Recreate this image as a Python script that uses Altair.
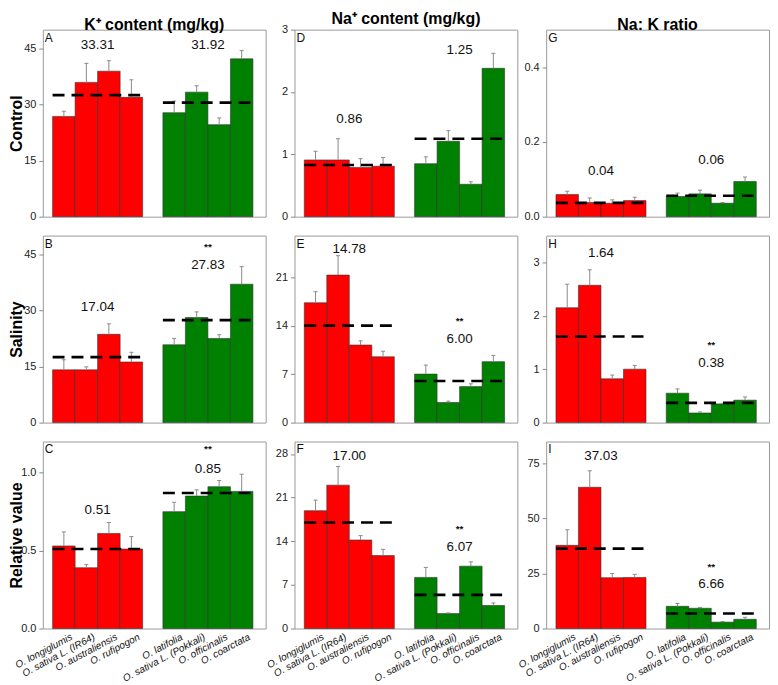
import json
import altair as alt
import pandas as pd

# ---------------- data ----------------
SPECIES = ["O. longiglumis", "O. sativa L. (IR64)", "O. australiensis", "O. rufipogon",
           "O. latifolia", "O. sativa L. (Pokkali)", "O. officinalis", "O. coarctata"]
GROUP = ["sensitive"] * 4 + ["tolerant"] * 4
BAR_START = [0, 1, 2, 3, 4.9, 5.9, 6.9, 7.9]
GROUP_START = [0, 4.9]
GROUP_END = [4, 8.9]

ROWS = ["Control", "Salinity", "Relative value"]
COLS = ["K\u207a content (mg/kg)", "Na\u207a content (mg/kg)", "Na: K ratio"]

# Control
k_control = [26.8, 35.9, 38.9, 31.9, 27.8, 33.3, 24.6, 42.2]
k_control_se = [1.4, 5.1, 2.8, 4.7, 3.1, 1.7, 1.8, 2.2]
k_control_line = [32.5, 30.5]
k_control_lbl = ["33.31", "31.92"]
k_control_lbl_y = [45.8, 45.8]

na_control = [0.91, 0.91, 0.79, 0.81, 0.85, 1.21, 0.52, 2.38]
na_control_se = [0.14, 0.34, 0.14, 0.14, 0.11, 0.17, 0.04, 0.24]
na_control_line = [0.83, 1.25]
na_control_lbl = ["0.86", "1.25"]
na_control_lbl_y = [1.57, 2.68]

r_control = [0.059, 0.038, 0.036, 0.043, 0.054, 0.061, 0.036, 0.094]
r_control_se = [0.009, 0.012, 0.009, 0.009, 0.009, 0.010, 0.002, 0.012]
r_control_line = [0.037, 0.056]
r_control_lbl = ["0.04", "0.06"]
r_control_lbl_y = [0.123, 0.152]

# Salinity
k_sal = [14.1, 14.1, 23.6, 16.2, 20.8, 28.1, 22.5, 37.0]
k_sal_se = [2.7, 0.8, 2.8, 2.6, 1.7, 1.5, 1.0, 4.7]
k_sal_line = [17.5, 27.4]
k_sal_lbl = ["17.04", "27.83"]
k_sal_lbl_y = [30.9, 42.1]
k_sal_star_y = 46.9

na_sal = [17.3, 21.3, 11.2, 9.5, 7.0, 2.9, 5.2, 8.8]
na_sal_se = [1.6, 2.8, 0.6, 0.8, 1.3, 0.2, 0.4, 0.9]
na_sal_line = [14.0, 6.0]
na_sal_lbl = ["14.78", "6.00"]
na_sal_lbl_y = [25.1, 12.1]
na_sal_star_y = 14.7

r_sal = [2.15, 2.57, 0.82, 1.00, 0.55, 0.18, 0.35, 0.42]
r_sal_se = [0.44, 0.29, 0.07, 0.07, 0.08, 0.02, 0.01, 0.06]
r_sal_line = [1.61, 0.37]
r_sal_lbl = ["1.64", "0.38"]
r_sal_lbl_y = [3.17, 1.12]
r_sal_star_y = 1.45

# Relative value
k_rel = [0.53, 0.39, 0.61, 0.51, 0.75, 0.85, 0.91, 0.88]
k_rel_se = [0.09, 0.02, 0.07, 0.08, 0.06, 0.04, 0.04, 0.11]
k_rel_line = [0.51, 0.87]
k_rel_lbl = ["0.51", "0.85"]
k_rel_lbl_y = [0.76, 1.025]
k_rel_star_y = 1.15

na_rel = [18.9, 23.0, 14.2, 11.7, 8.2, 2.4, 10.0, 3.7]
na_rel_se = [1.7, 3.0, 0.7, 1.0, 1.6, 0.1, 0.7, 0.4]
na_rel_line = [17.0, 5.4]
na_rel_lbl = ["17.00", "6.07"]
na_rel_lbl_y = [27.7, 13.0]
na_rel_star_y = 15.9

r_rel = [37.8, 64.2, 23.1, 23.2, 10.1, 9.2, 2.9, 4.2]
r_rel_se = [7.1, 7.5, 1.9, 1.4, 1.3, 0.4, 0.3, 0.9]
r_rel_line = [36.3, 6.8]
r_rel_lbl = ["37.03", "6.66"]
r_rel_lbl_y = [78.2, 20.3]
r_rel_star_y = 28.0

# ---------------- chart construction ----------------
FONT = "Liberation Sans"
X_DOMAIN = [-0.435, 9.465]
TICK_POS = [s + 0.5 for s in BAR_START]
LABEL_EXPR = (json.dumps(SPECIES) +
              "[round(datum.value < 4.5 ? datum.value - 0.5 : datum.value - 1.4)]")
PH = 188
PW = 224


def panel(means, se, lines, labels, label_y, star_y, letter, domain, ticks, fmt,
          title=None, ytitle=None, xlabels=False):
    bars = pd.DataFrame({
        "species": SPECIES,
        "group": GROUP,
        "x0": BAR_START,
        "x1": [s + 1 for s in BAR_START],
        "xc": [s + 0.5 for s in BAR_START],
        "cl": [s + 0.41 for s in BAR_START],
        "cr": [s + 0.59 for s in BAR_START],
        "mean": means,
        "upper": [m + e for m, e in zip(means, se)],
    })
    groups = pd.DataFrame({
        "gx0": GROUP_START,
        "gx1": GROUP_END,
        "gc": [(a + b) / 2 for a, b in zip(GROUP_START, GROUP_END)],
        "line": lines,
        "label": labels,
        "label_y": label_y,
        "star": ["", "**"] if star_y is not None else ["", ""],
        "star_y": [star_y or 0, star_y or 0],
    })
    xs = alt.Scale(domain=X_DOMAIN, nice=False, zero=False)
    ys = alt.Scale(domain=domain, nice=False, zero=True)
    if xlabels:
        xaxis = alt.Axis(values=TICK_POS, labelExpr=LABEL_EXPR, labelAngle=-28,
                         labelFontStyle="italic", labelFontSize=10, ticks=False,
                         domain=False, grid=False, title=None, labelPadding=3,
                         labelOffset=5, labelColor="#111", labelOverlap=False,
                         labelBound=False, labelFlush=False)
    else:
        xaxis = None
    yaxis_kw = dict(values=ticks, grid=False, domain=False, tickSize=4,
                    tickColor="#888", labelPadding=3, labelFontSize=11,
                    labelColor="#222", minExtent=16, maxExtent=16,
                    labelOverlap=False, labelFlush=False)
    if fmt:
        yaxis_kw["format"] = fmt
    if ytitle:
        yaxis_kw.update(title=ytitle, titleFontSize=16, titleFontWeight="bold",
                        titlePadding=2, titleColor="black")
    else:
        yaxis_kw["title"] = None
    yaxis = alt.Axis(**yaxis_kw)

    base = alt.Chart(bars)
    bar = base.mark_bar(stroke="#333", strokeWidth=0.6).encode(
        x=alt.X("x0:Q", scale=xs, axis=xaxis),
        x2="x1:Q",
        y=alt.Y("mean:Q", scale=ys, axis=yaxis),
        y2=alt.datum(0),
        color=alt.Color("group:N", scale=alt.Scale(domain=["sensitive", "tolerant"],
                                                   range=["#FF0000", "#008000"]),
                        legend=None),
    )
    err = base.mark_rule(color="#8a8a8a", strokeWidth=1).encode(
        x=alt.X("xc:Q", scale=xs, axis=xaxis),
        y=alt.Y("mean:Q", scale=ys, axis=yaxis),
        y2="upper:Q",
    )
    cap = base.mark_rule(color="#8a8a8a", strokeWidth=1).encode(
        x=alt.X("cl:Q", scale=xs, axis=xaxis),
        x2="cr:Q",
        y=alt.Y("upper:Q", scale=ys, axis=yaxis),
    )
    gbase = alt.Chart(groups)
    dash = gbase.mark_rule(color="black", strokeWidth=2.6, strokeDash=[12, 7]).encode(
        x=alt.X("gx0:Q", scale=xs, axis=xaxis),
        x2="gx1:Q",
        y=alt.Y("line:Q", scale=ys, axis=yaxis),
    )
    lbl = gbase.mark_text(fontSize=13.5, font=FONT, color="#111").encode(
        x=alt.X("gc:Q", scale=xs, axis=xaxis),
        y=alt.Y("label_y:Q", scale=ys, axis=yaxis),
        text="label:N",
    )
    layers = [bar, err, cap, dash, lbl]
    if star_y is not None:
        star = gbase.mark_text(fontSize=10, font=FONT, fontWeight="bold",
                               color="#111").encode(
            x=alt.X("gc:Q", scale=xs, axis=xaxis),
            y=alt.Y("star_y:Q", scale=ys, axis=yaxis),
            text="star:N",
        )
        layers.append(star)
    letter_layer = alt.Chart(pd.DataFrame({"t": [letter]})).mark_text(
        align="left", baseline="top", fontSize=12, font=FONT, color="#111"
    ).encode(x=alt.value(2), y=alt.value(3), text="t:N")
    layers.append(letter_layer)
    props = dict(width=PW, height=PH)
    if title:
        props["title"] = alt.TitleParams(text=title, fontSize=16, fontWeight="bold",
                                         font=FONT, offset=-3, anchor="middle",
                                         frame="group", color="black")
    return alt.layer(*layers).properties(**props)


panels = [
    panel(k_control, k_control_se, k_control_line, k_control_lbl, k_control_lbl_y, None,
          "A", [0, 50], [0, 15, 30, 45], None, title=COLS[0], ytitle=ROWS[0]),
    panel(na_control, na_control_se, na_control_line, na_control_lbl, na_control_lbl_y, None,
          "D", [0, 3], [0, 1, 2, 3], None, title=COLS[1]),
    panel(r_control, r_control_se, r_control_line, r_control_lbl, r_control_lbl_y, None,
          "G", [0, 0.5], [0, 0.2, 0.4], ".1f", title=COLS[2]),
    panel(k_sal, k_sal_se, k_sal_line, k_sal_lbl, k_sal_lbl_y, k_sal_star_y,
          "B", [0, 50], [0, 15, 30, 45], None, ytitle=ROWS[1]),
    panel(na_sal, na_sal_se, na_sal_line, na_sal_lbl, na_sal_lbl_y, na_sal_star_y,
          "E", [0, 27], [0, 7, 14, 21], None),
    panel(r_sal, r_sal_se, r_sal_line, r_sal_lbl, r_sal_lbl_y, r_sal_star_y,
          "H", [0, 3.5], [0, 1, 2, 3], None),
    panel(k_rel, k_rel_se, k_rel_line, k_rel_lbl, k_rel_lbl_y, k_rel_star_y,
          "C", [0, 1.2], [0, 0.5, 1.0], ".1f", ytitle=ROWS[2], xlabels=True),
    panel(na_rel, na_rel_se, na_rel_line, na_rel_lbl, na_rel_lbl_y, na_rel_star_y,
          "F", [0, 30], [0, 7, 14, 21, 28], None, xlabels=True),
    panel(r_rel, r_rel_se, r_rel_line, r_rel_lbl, r_rel_lbl_y, r_rel_star_y,
          "I", [0, 85], [0, 25, 50, 75], None, xlabels=True),
]

chart = alt.concat(
    *panels, columns=3, bounds="flush", spacing={"row": 19, "column": 29}
).properties(
    padding=0
).configure_view(
    stroke="#9a9a9a", strokeWidth=1
).configure_axis(
    labelFont=FONT, titleFont=FONT
).configure_text(
    font=FONT
).configure_title(
    font=FONT
)

chart.save("out.html", embed_options={"renderer": "svg", "actions": False})
